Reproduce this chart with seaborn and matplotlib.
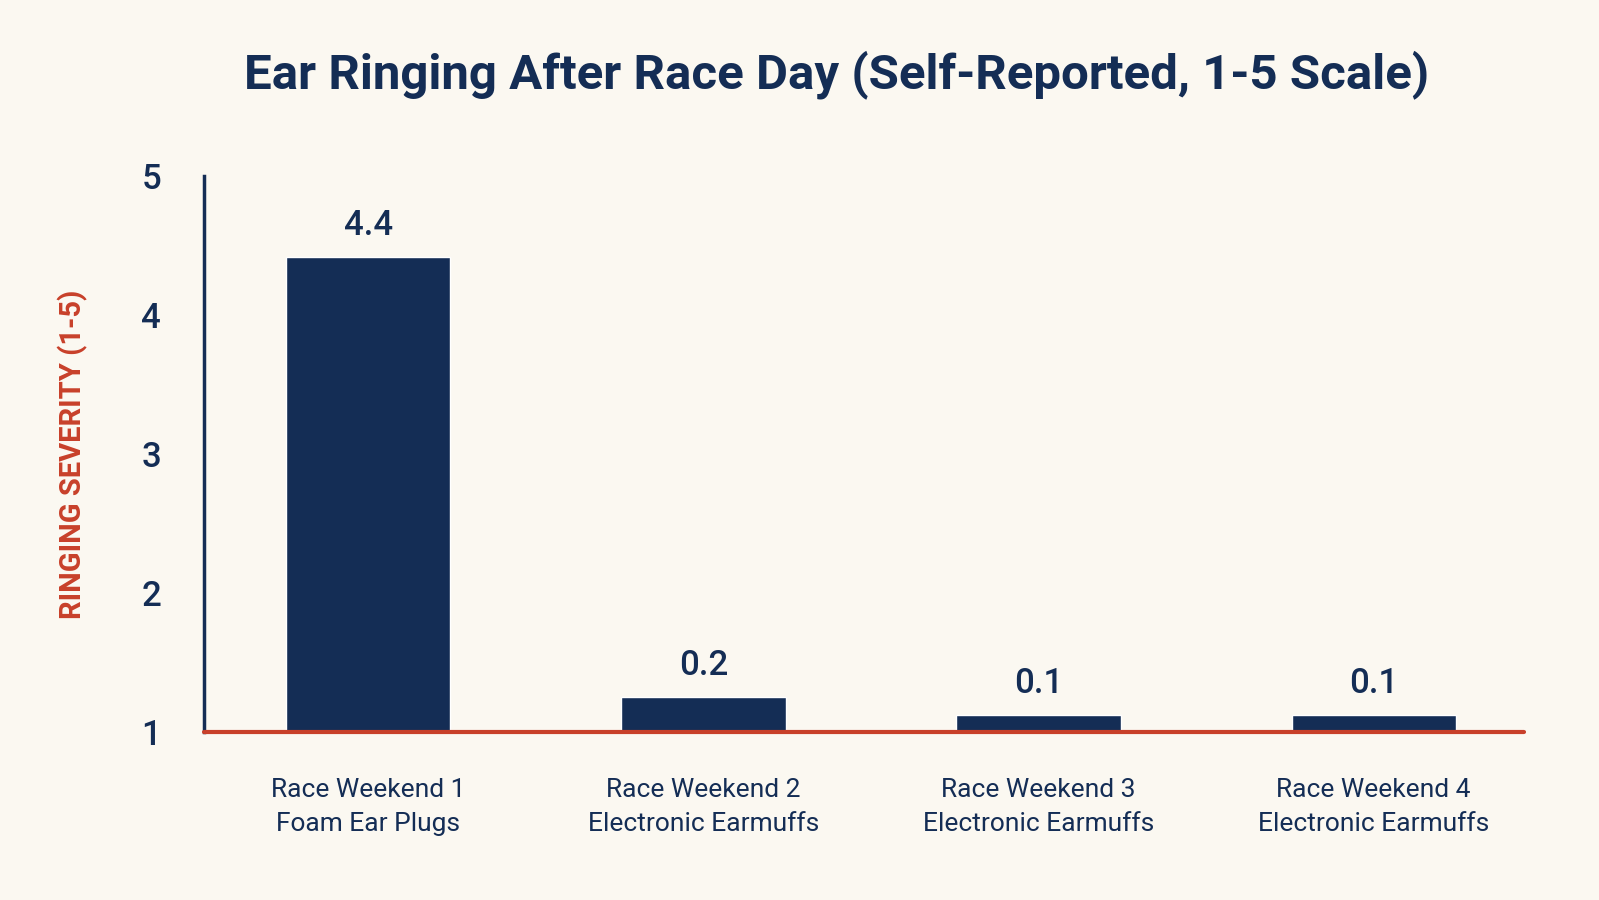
import matplotlib
matplotlib.use("Agg")
import matplotlib.pyplot as plt
import seaborn as sns
import pandas as pd

# Données
weekends = ["Race Weekend 1", "Race Weekend 2", "Race Weekend 3", "Race Weekend 4"]
protection = ["Foam Ear Plugs", "Electronic Earmuffs", "Electronic Earmuffs", "Electronic Earmuffs"]
bar_top = [4.42, 1.25, 1.12, 1.12]      # hauteur visible des barres sur l'axe 1-5
value_labels = ["4.4", "0.2", "0.1", "0.1"]
y_ticks = [1, 2, 3, 4, 5]

navy = "#142d55"
red = "#c8402a"
bg = "#fbf8f1"

df = pd.DataFrame({
    "label": [f"{w}\n{p}" for w, p in zip(weekends, protection)],
    "severity": bar_top,
})

sns.set_theme(style="white")
plt.rcParams["font.family"] = ["Roboto", "DejaVu Sans"]

fig = plt.figure(figsize=(15.99, 9), dpi=100, facecolor=bg)
ax = fig.add_axes([0.1276, 0.187, 0.8258, 0.617])
ax.set_facecolor(bg)

sns.barplot(data=df, x="label", y="severity", color=navy, width=0.49,
            saturation=1, ax=ax)

ax.set_ylim(1, 5)
ax.set_xlim(-0.49, 3.45)
ax.set_yticks(y_ticks)
ax.set_yticklabels([str(t) for t in y_ticks], fontsize=25, color=navy, fontweight="medium")
ax.tick_params(axis="y", length=10, width=2.5, color=navy, pad=21, direction="out")
ax.tick_params(axis="x", length=0, pad=33)
for lab in ax.get_xticklabels():
    lab.set_fontsize(19)
    lab.set_color(navy)
    lab.set_linespacing(1.55)
ax.set_xlabel("")
ax.set_ylabel("RINGING SEVERITY (1-5)", color=red, fontsize=21, fontweight="bold",
              labelpad=38)

for s in ["top", "right", "bottom"]:
    ax.spines[s].set_visible(False)
ax.spines["left"].set_color(navy)
ax.spines["left"].set_linewidth(2.5)

ax.axhline(1, color=red, lw=3, zorder=5, clip_on=False)

for i, (top, txt) in enumerate(zip(bar_top, value_labels)):
    ax.annotate(txt, (i, top), xytext=(0, 11), textcoords="offset points",
                ha="center", va="bottom", fontsize=25, color=navy, fontweight="medium")

fig.text(0.523, 0.917, "Ear Ringing After Race Day (Self-Reported, 1-5 Scale)",
         ha="center", va="center", fontsize=35.5, fontweight="bold", color=navy)

fig.savefig("out.png", dpi=100, facecolor=bg)
